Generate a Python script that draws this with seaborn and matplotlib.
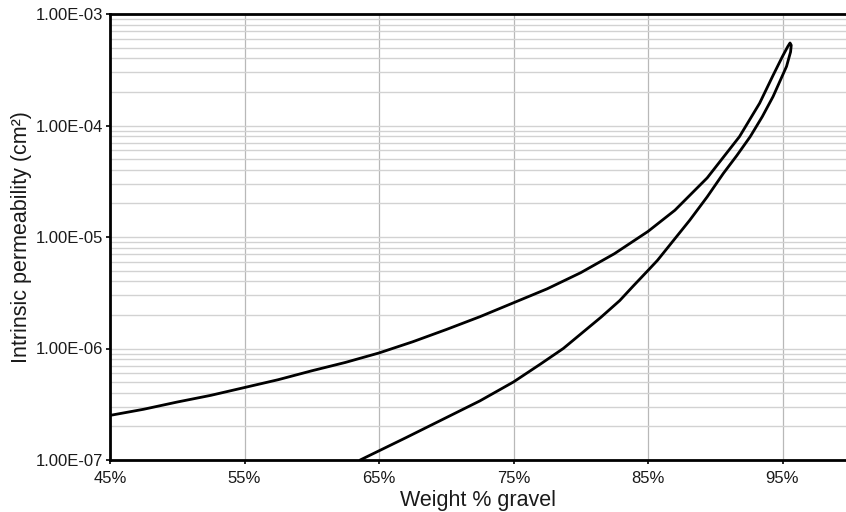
import matplotlib
matplotlib.use("Agg")
import matplotlib.pyplot as plt
import matplotlib.ticker as mticker
import numpy as np
import pandas as pd
import seaborn as sns

# Upper branch (left to the tip), then lower branch (tip back down); log10 of permeability
upper_x = [45.0, 47.5, 50.0, 52.5, 55.0, 57.5, 60.0, 62.5, 65.0, 67.5, 70.0, 72.5, 75.0, 77.5,
           80.0, 82.5, 85.0, 87.0, 89.4, 91.8, 93.3, 94.3, 95.0, 95.4, 95.56]
upper_logk = [-6.60, -6.545, -6.48, -6.42, -6.35, -6.28, -6.20, -6.125, -6.04, -5.94, -5.83, -5.715,
              -5.59, -5.465, -5.32, -5.15, -4.95, -4.76, -4.47, -4.10, -3.80, -3.55, -3.38, -3.29, -3.26]
lower_x = [95.65, 95.6, 95.3, 94.3, 93.5, 92.6, 91.6, 90.6, 89.4, 88.1, 86.9, 85.7, 85.0, 83.9,
           82.9, 81.5, 80.0, 78.7, 77.0, 75.0, 72.5, 70.0, 67.0, 63.6]
lower_logk = [-3.28, -3.34, -3.47, -3.74, -3.92, -4.10, -4.27, -4.43, -4.64, -4.85, -5.03, -5.21,
              -5.30, -5.44, -5.57, -5.72, -5.87, -6.00, -6.14, -6.30, -6.47, -6.62, -6.80, -7.00]

x_ticks = [45, 55, 65, 75, 85, 95]
y_ticks = [1e-7, 1e-6, 1e-5, 1e-4, 1e-3]

xs = upper_x + lower_x
ks = [10 ** v for v in upper_logk + lower_logk]
df = pd.DataFrame({"gravel": xs, "perm": ks})

sns.set_theme(style="white")
plt.rcParams["font.family"] = ["Liberation Sans", "DejaVu Sans"]

fig = plt.figure(figsize=(8.46, 5.12), dpi=100)
ax = fig.add_axes([110 / 846, 1 - 460 / 512, (846 - 110) / 846, (460 - 14) / 512])

sns.lineplot(data=df, x="gravel", y="perm", sort=False, estimator=None,
             color="black", linewidth=2.0, ax=ax)
for ln in ax.lines:
    ln.set_solid_joinstyle("round")

ax.set_yscale("log")
ax.set_xlim(45, 45 + 736 / 13.45)
ax.set_ylim(1e-7, 1e-3)

ax.set_xticks(x_ticks)
ax.xaxis.set_major_formatter(mticker.FuncFormatter(lambda v, p: f"{v:.0f}%"))
ax.set_yticks(y_ticks)
ax.yaxis.set_major_formatter(mticker.FuncFormatter(lambda v, p: f"{v:.2E}"))
ax.yaxis.set_minor_locator(mticker.LogLocator(base=10, subs=np.arange(2, 10)))
ax.yaxis.set_minor_formatter(mticker.NullFormatter())

ax.grid(which="minor", axis="y", color="#d2d2d2", linewidth=1.0)
ax.grid(which="major", axis="y", color="#d2d2d2", linewidth=1.0)
ax.grid(which="major", axis="x", color="#b8b8b8", linewidth=0.9)
ax.set_axisbelow(True)

for side in ["top", "left", "bottom"]:
    ax.spines[side].set_visible(True)
    ax.spines[side].set_color("black")
    ax.spines[side].set_linewidth(2.0)
ax.spines["right"].set_visible(False)

ax.tick_params(axis="both", which="major", direction="out", length=3, width=1.2,
               color="black", labelsize=12, labelcolor="#1a1a1a", pad=2,
               bottom=True, left=True)
ax.tick_params(axis="x", which="major", pad=5)
ax.tick_params(axis="y", which="minor", length=0)

ax.set_xlabel("Weight % gravel", fontsize=15.5, color="#1a1a1a", labelpad=3)
ax.set_ylabel("Intrinsic permeability (cm²)", fontsize=15.5, color="#1a1a1a", labelpad=3)

fig.savefig("out.png", dpi=100)
